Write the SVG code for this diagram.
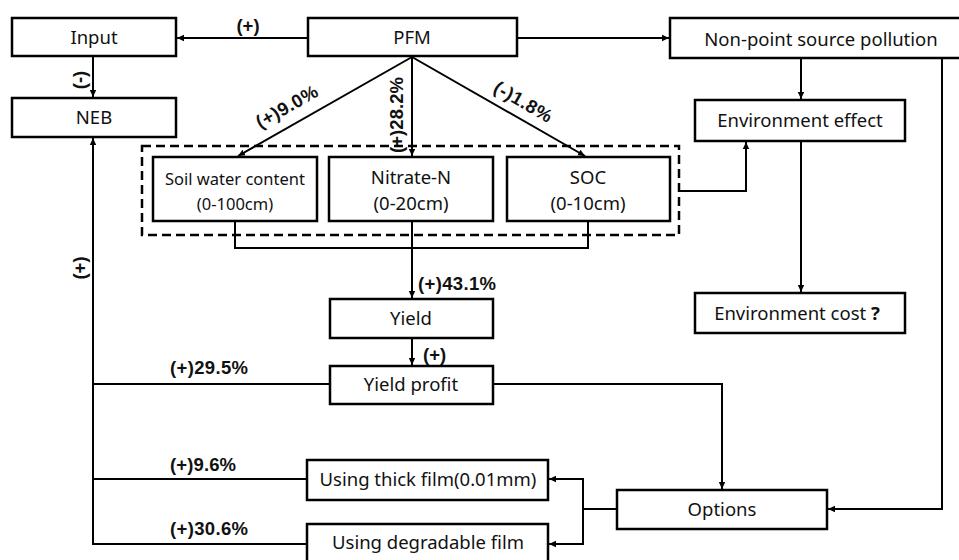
<svg xmlns="http://www.w3.org/2000/svg" width="959" height="560" viewBox="0 0 959 560">
<defs>
<marker id="ah" markerUnits="userSpaceOnUse" markerWidth="8" markerHeight="8" refX="7" refY="4" orient="auto">
<path d="M0,0.8 L7,4 L0,7.2 z" fill="#000"/>
</marker>
<style>
.box{fill:#fff;stroke:#000;stroke-width:2.5}
.t{font-family:"Noto Sans","Open Sans",sans-serif;font-size:18.5px;fill:#111;text-anchor:middle}
.ts{font-family:"Noto Sans","Open Sans",sans-serif;font-size:16.5px;fill:#111;text-anchor:middle}
.lb{font-family:"Liberation Sans",Arial,sans-serif;font-size:18.5px;font-weight:bold;fill:#111}
.c{fill:none;stroke:#000;stroke-width:2}
.ca{fill:none;stroke:#000;stroke-width:2;marker-end:url(#ah)}
.dash{fill:none;stroke:#000;stroke-width:2.5;stroke-dasharray:9 5}
</style>
</defs>
<rect width="959" height="560" fill="#fff"/>

<g id="connectors">
<line class="ca" x1="308" y1="38" x2="177" y2="38"/>
<line class="ca" x1="517" y1="38" x2="669" y2="38"/>
<line class="ca" x1="93" y1="56" x2="93" y2="97"/>
<line class="ca" x1="412" y1="57" x2="238" y2="156"/>
<line class="ca" x1="412" y1="57" x2="412" y2="156"/>
<line class="ca" x1="412" y1="57" x2="585" y2="156"/>
<line class="ca" x1="801" y1="58" x2="801" y2="99"/>
<polyline class="ca" points="679,191 746,191 746,142"/>
<line class="ca" x1="801" y1="141" x2="801" y2="292"/>
<polyline class="ca" points="942,58 942,509 828,509"/>
<polyline class="c" points="235,221 235,248 588,248 588,221"/>
<line class="ca" x1="412" y1="221" x2="412" y2="298"/>
<line class="ca" x1="412" y1="338" x2="412" y2="365"/>
<line class="c" x1="330" y1="384" x2="93" y2="384"/>
<line class="ca" x1="93" y1="544" x2="93" y2="138"/>
<line class="c" x1="307" y1="479" x2="93" y2="479"/>
<line class="c" x1="307" y1="544" x2="92" y2="544"/>
<polyline class="ca" points="493,384 722,384 722,489"/>
<line class="c" x1="617" y1="509" x2="583" y2="509"/>
<polyline class="ca" points="583,509 583,479 549,479"/>
<polyline class="ca" points="583,509 583,544 549,544"/>
</g>

<g id="labels">
<text class="lb" x="248" y="32" text-anchor="middle">(+)</text>
<text class="lb" transform="translate(86,80) rotate(-90)" text-anchor="middle">(-)</text>
<text class="lb" transform="translate(287,107) rotate(-29.5)" text-anchor="middle" dy="6" textLength="68">(+)9.0%</text>
<text class="lb" transform="translate(397,115) rotate(-90)" text-anchor="middle" dy="6" textLength="76">(+)28.2%</text>
<text class="lb" transform="translate(523,102) rotate(29.8)" text-anchor="middle" dy="6" textLength="64">(-)1.8%</text>
<text class="lb" transform="translate(86,268) rotate(-90)" text-anchor="middle">(+)</text>
<text class="lb" x="418" y="290" textLength="78">(+)43.1%</text>
<text class="lb" x="423" y="361">(+)</text>
<text class="lb" x="170" y="374" textLength="78">(+)29.5%</text>
<text class="lb" x="170" y="471" textLength="66">(+)9.6%</text>
<text class="lb" x="170" y="535" textLength="78">(+)30.6%</text>
</g>

<g id="input"><rect class="box" x="12" y="18" width="164" height="38"/><text class="t" x="94" y="44">Input</text></g>
<g id="pfm"><rect class="box" x="308" y="18" width="209" height="38"/><text class="t" x="412" y="44">PFM</text></g>
<g id="nps"><rect class="box" x="670" y="18" width="302" height="40"/><text class="t" x="821" y="46" font-size="19.5">Non-point source pollution</text></g>
<g id="neb"><rect class="box" x="12" y="98" width="164" height="39"/><text class="t" x="94" y="124">NEB</text></g>
<g id="envEffect"><rect class="box" x="695" y="100" width="210" height="41"/><text class="t" x="800" y="127">Environment effect</text></g>
<g id="envCost"><rect class="box" x="695" y="293" width="210" height="40"/><text class="t" x="797" y="320">Environment cost <tspan font-weight="bold">?</tspan></text></g>

<g id="soilGroup"><rect class="dash" x="142" y="146" width="537" height="89"/></g>
<g id="soil"><rect class="box" x="153" y="157" width="164" height="64"/><text class="ts" x="235" y="185">Soil water content</text><text class="ts" x="235" y="210">(0-100cm)</text></g>
<g id="nitrate"><rect class="box" x="329" y="157" width="164" height="64"/><text class="t" x="411" y="184">Nitrate-N</text><text class="t" x="411" y="210">(0-20cm)</text></g>
<g id="soc"><rect class="box" x="507" y="157" width="163" height="64"/><text class="t" x="588" y="184">SOC</text><text class="t" x="588" y="210">(0-10cm)</text></g>

<g id="yield"><rect class="box" x="330" y="299" width="163" height="39"/><text class="t" x="411" y="325">Yield</text></g>
<g id="yieldProfit"><rect class="box" x="330" y="366" width="163" height="38"/><text class="t" x="411" y="391">Yield profit</text></g>
<g id="options"><rect class="box" x="617" y="490" width="210" height="39"/><text class="t" x="722" y="516">Options</text></g>
<g id="thickFilm"><rect class="box" x="307" y="460" width="241" height="40"/><text class="t" x="428" y="486">Using thick film(0.01mm)</text></g>
<g id="degradable"><rect class="box" x="307" y="524" width="241" height="38"/><text class="t" x="428" y="549">Using degradable film</text></g>
</svg>
